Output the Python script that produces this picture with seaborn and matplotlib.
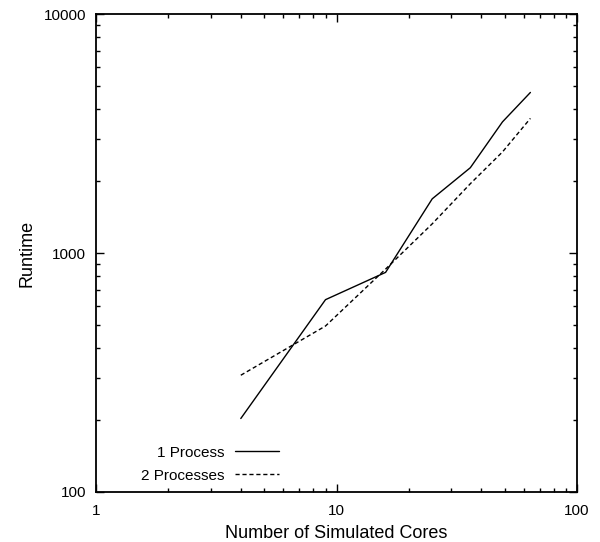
import matplotlib
matplotlib.use("Agg")
import matplotlib.pyplot as plt
import seaborn as sns
import pandas as pd
import numpy as np
from matplotlib.ticker import LogLocator, NullFormatter

cores = [4, 9, 16, 25, 36, 49, 64]
one_process = [203, 638, 830, 1686, 2275, 3540, 4700]
two_processes = [308, 495, 857, 1325, 1950, 2650, 3660]
series_names = ["1 Process", "2 Processes"]
x_ticks = [1, 10, 100]
x_tick_labels = ["1", "10", "100"]
y_ticks = [100, 1000, 10000]
y_tick_labels = ["100", "1000", "10000"]

df = pd.DataFrame({
    "cores": cores * 2,
    "runtime": one_process + two_processes,
    "series": [series_names[0]] * len(cores) + [series_names[1]] * len(cores),
})

sns.set_theme(style="white")
plt.rcParams["font.family"] = ["Liberation Sans", "DejaVu Sans"]
plt.rcParams["text.color"] = "black"
plt.rcParams["axes.labelcolor"] = "black"
plt.rcParams["legend.labelcolor"] = "black"

fig = plt.figure(figsize=(6.0, 5.42), dpi=100)
ax = fig.add_axes([0.16, 0.0923, 0.8017, 0.8817])

sns.lineplot(data=df, x="cores", y="runtime", style="series",
             dashes={series_names[0]: "", series_names[1]: (3, 2)},
             color="black", linewidth=1.0, ax=ax, legend=True)

ax.set_xscale("log")
ax.set_yscale("log")
ax.set_xlim(1, 100)
ax.set_ylim(100, 10000)
ax.set_xticks(x_ticks)
ax.set_xticklabels(x_tick_labels)
ax.set_yticks(y_ticks)
ax.set_yticklabels(y_tick_labels)
ax.xaxis.set_minor_locator(LogLocator(base=10, subs=np.arange(2, 10)))
ax.yaxis.set_minor_locator(LogLocator(base=10, subs=np.arange(2, 10)))
ax.xaxis.set_minor_formatter(NullFormatter())
ax.yaxis.set_minor_formatter(NullFormatter())
ax.tick_params(which="both", direction="in", top=True, right=True,
               bottom=True, left=True, colors="black", labelsize=11)
ax.tick_params(axis="x", which="major", pad=9)
ax.tick_params(axis="y", which="major", pad=7)
ax.tick_params(which="major", length=6, width=1)
ax.tick_params(which="minor", length=3, width=1)
for s in ax.spines.values():
    s.set_color("black")
    s.set_linewidth(1.3)

ax.set_xlabel("Number of Simulated Cores", fontsize=13, labelpad=5, color="black")
ax.set_ylabel("Runtime", fontsize=13, labelpad=6, color="black")

leg = ax.legend(loc="lower right", bbox_to_anchor=(0.40, 0.0), frameon=False,
                markerfirst=False, fontsize=11, handlelength=2.9,
                handletextpad=0.7, labelspacing=0.6, borderpad=0.1)
for l in leg.get_lines():
    l.set_linewidth(1.0)
for t in leg.get_texts():
    t.set_color("black")

fig.savefig("out.png", dpi=100)
